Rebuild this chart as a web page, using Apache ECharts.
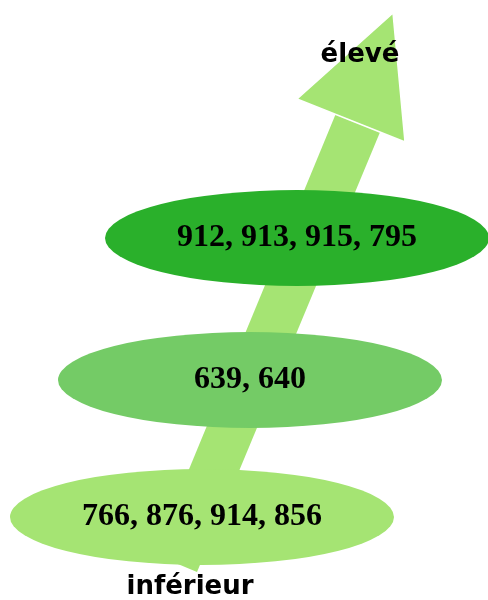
<!DOCTYPE html>
<html>
<head>
<meta charset="utf-8">
<script src="https://cdn.jsdelivr.net/npm/echarts@6/dist/echarts.min.js"></script>
<style>
  html, body { margin: 0; padding: 0; background: #fff; }
  #main { width: 488px; height: 600px; }
</style>
</head>
<body>
<div id="main"></div>
<script>
// niveaux, du bas vers le haut
const groups = [
  [766, 876, 914, 856],
  [639, 640],
  [912, 913, 915, 795]
];
const levelNames = ['inférieur', 'élevé'];

// mise en page (coordonnées en pixels)
const ellipseCenters = [[202, 517], [250, 380], [297, 238]];
const ellipseColors = ['#a5e473', '#74cb66', '#2ab02b'];
const namePos = [[190, 587], [360, 55]];
const arrowColor = '#a5e473';
const shaft = [[154, 554], [197, 572], [383, 125], [339, 106]];
const head = [[393, 13], [297, 99], [405, 142]];

const chart = echarts.init(document.getElementById('main'));

chart.setOption({
  animation: false,
  grid: { left: 0, right: 0, top: 0, bottom: 0 },
  xAxis: { type: 'value', min: 0, max: 488, show: false },
  yAxis: { type: 'value', min: 0, max: 600, inverse: true, show: false },
  series: [
    {
      type: 'custom',
      z: 1,
      silent: true,
      data: [0],
      renderItem(params, api) {
        return {
          type: 'group',
          children: [
            {
              type: 'polygon',
              shape: { points: shaft.map((p) => api.coord(p)) },
              style: { fill: arrowColor }
            },
            {
              type: 'polygon',
              shape: { points: head.map((p) => api.coord(p)) },
              style: { fill: arrowColor, stroke: '#fff', lineWidth: 1.5 }
            }
          ]
        };
      }
    },
    {
      type: 'scatter',
      z: 2,
      silent: true,
      symbol: 'circle',
      symbolSize: [384, 96],
      data: groups.map((g, i) => ({
        value: ellipseCenters[i],
        itemStyle: { color: ellipseColors[i], opacity: 1 },
        label: { formatter: g.join(', ') }
      })),
      label: {
        show: true,
        position: 'inside',
        color: '#000',
        textBorderWidth: 0,
        fontFamily: 'Liberation Serif',
        fontWeight: 'bold',
        fontSize: 32
      },
      emphasis: { disabled: true }
    },
    {
      type: 'scatter',
      z: 3,
      silent: true,
      symbolSize: 1,
      itemStyle: { opacity: 1, color: 'rgba(0,0,0,0)' },
      data: levelNames.map((n, i) => ({
        value: namePos[i],
        label: { formatter: n }
      })),
      label: {
        show: true,
        position: 'inside',
        color: '#000',
        opacity: 1,
        textBorderWidth: 0,
        fontFamily: 'DejaVu Sans',
        fontWeight: 'bold',
        fontSize: 26
      },
      emphasis: { disabled: true }
    }
  ]
});
</script>
</body>
</html>
